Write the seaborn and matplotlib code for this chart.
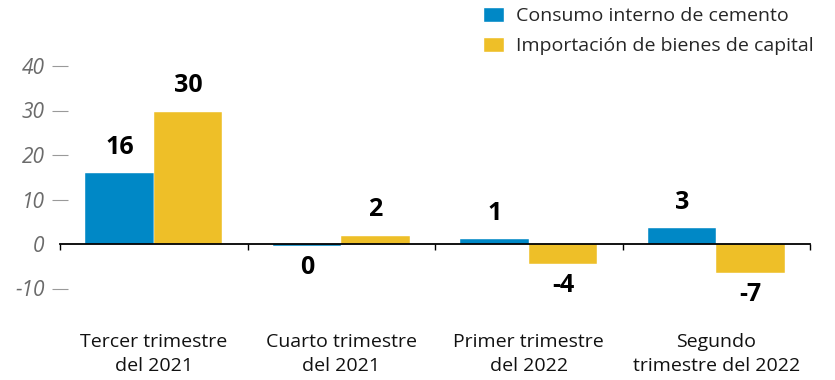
import matplotlib
matplotlib.use("Agg")
import matplotlib.pyplot as plt
import matplotlib.transforms as mtransforms
from matplotlib.patches import Patch
import seaborn as sns
import pandas as pd

# ---- data ----
categories = ["Tercer trimestre\ndel 2021", "Cuarto trimestre\ndel 2021",
              "Primer trimestre\ndel 2022", "Segundo\ntrimestre del 2022"]
series_names = ["Consumo interno de cemento", "Importación de bienes de capital"]
consumo = [15.9, -0.4, 1.1, 3.5]
importacion = [29.7, 1.9, -4.4, -6.5]
consumo_labels = ["16", "0", "1", "3"]
importacion_labels = ["30", "2", "-4", "-7"]
y_ticks = [-10, 0, 10, 20, 30, 40]

colors = ["#0088C6", "#EEBF28"]

df = pd.DataFrame({
    "cat": categories * 2,
    "serie": [series_names[0]] * 4 + [series_names[1]] * 4,
    "val": consumo + importacion,
    "lab": consumo_labels + importacion_labels,
})

sns.set_theme(style="white")
plt.rcParams["font.family"] = ["Open Sans", "DejaVu Sans"]

fig = plt.figure(figsize=(8.35, 3.8), dpi=100)
ax = fig.add_axes([60 / 835, 1 - 297.4 / 380, 750 / 835, (297.4 - 43.75) / 380])

sns.barplot(data=df, x="cat", y="val", hue="serie", palette=colors,
            width=0.73, gap=0, ax=ax, legend=False, saturation=1,
            edgecolor="white", linewidth=0.3)

ax.set_xlim(-0.5, 3.5)
ax.set_ylim(-12, 45)
ax.set_xlabel("")
ax.set_ylabel("")

# spines
for s in ["top", "right", "left"]:
    ax.spines[s].set_visible(False)
ax.spines["bottom"].set_position(("data", 0))
ax.spines["bottom"].set_color("black")
ax.spines["bottom"].set_linewidth(1.3)
ax.spines["bottom"].set_zorder(5)

# x ticks: boundaries only
ax.set_xticks([-0.5, 0.5, 1.5, 2.5, 3.5])
ax.set_xticklabels([])
ax.tick_params(axis="x", direction="out", length=4, width=1, color="black", bottom=True)

# y ticks
ax.set_yticks(y_ticks)
ax.set_yticklabels([str(t) for t in y_ticks])
ax.tick_params(axis="y", direction="inout", length=12, width=0.8, color="#9a9a9a",
               pad=5, labelsize=15, labelcolor="#6b6b6b", left=True)
for lab in ax.get_yticklabels():
    lab.set_style("italic")
for t, v in zip(ax.yaxis.get_major_ticks(), y_ticks):
    if v == 0:
        t.tick1line.set_visible(False)

# value labels
for container, labs in zip(ax.containers, [consumo_labels, importacion_labels]):
    for bar, lab in zip(container, labs):
        v = bar.get_height()
        x = bar.get_x() + bar.get_width() / 2
        off = 26 if v >= 0 else -22
        ax.annotate(lab, (x, v), xytext=(0, off), textcoords="offset pixels",
                    ha="center", va="center", fontsize=18, fontweight="bold", color="black")

# category labels
trans = mtransforms.blended_transform_factory(ax.transData, fig.transFigure)
for i, c in enumerate(categories):
    ax.text(i, 1 - 354 / 380, c, transform=trans, ha="center", va="center",
            multialignment="center", fontsize=14, color="#111111", linespacing=1.45)

# legend
handles = [Patch(facecolor=colors[0]), Patch(facecolor=colors[1])]
fig.legend(handles, series_names, loc="upper left", bbox_to_anchor=(477 / 835, 1 - 1 / 380),
           frameon=False, fontsize=14, handlelength=1.1, handleheight=0.85,
           handletextpad=0.6, labelspacing=0.6, borderaxespad=0, borderpad=0.3)

fig.savefig("out.png", dpi=100)
